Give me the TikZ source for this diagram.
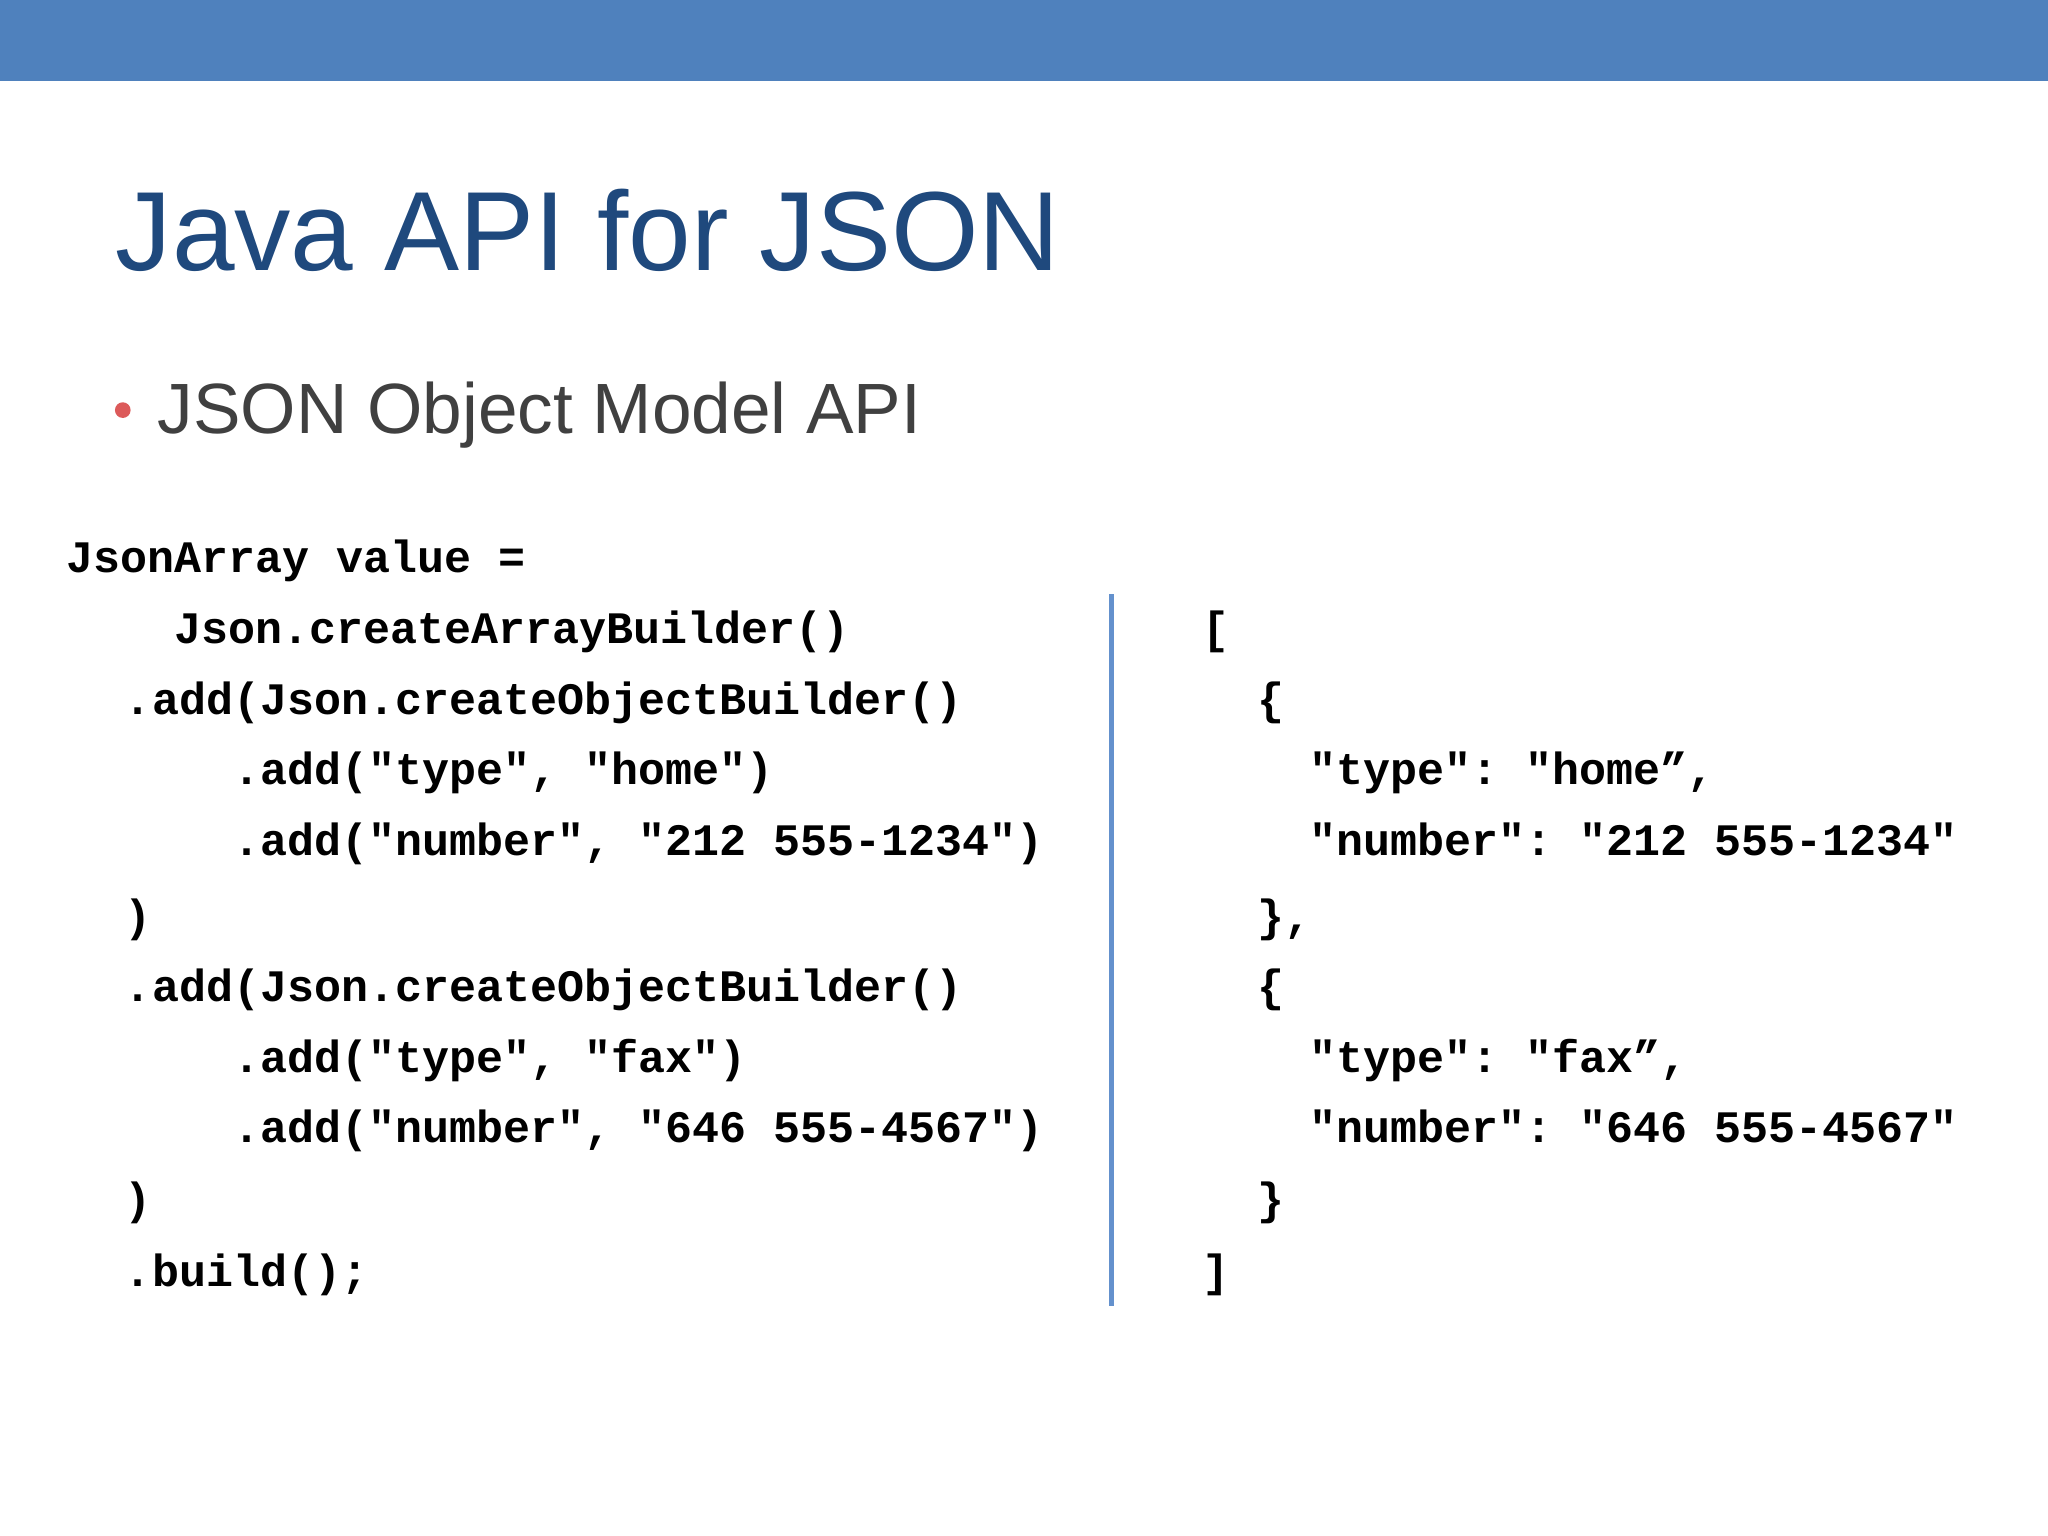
\documentclass[tikz,border=0pt]{standalone}
\usepackage{fontspec}
\setmainfont{Liberation Sans}
\setmonofont{Liberation Mono}
\usepackage{tikz}
\usetikzlibrary{positioning}
\definecolor{barblue}{RGB}{79,129,189}
\definecolor{titleblue}{RGB}{31,73,125}
\definecolor{textgray}{RGB}{64,64,64}
\definecolor{dotred}{RGB}{220,90,90}
\definecolor{lineblue}{RGB}{100,145,205}

\tikzset{
  code/.style={anchor=base west, inner sep=0pt, font=\fontsize{9.8pt}{11pt}\ttfamily\bfseries}
}

\begin{document}
\begin{tikzpicture}[x=0.01cm, y=-0.01cm]
	\useasboundingbox (0,0) rectangle (1568,1176);
	\fill[barblue] (0,0) rectangle (1568,62);
	\node[anchor=base west, inner sep=0pt, text=titleblue, font=\fontsize{24.5pt}{28pt}\selectfont] (title) at (88,207) {Java API for JSON};
	\fill[dotred] (94,314) circle (6);
	\node[anchor=base west, inner sep=0pt, text=textgray, font=\fontsize{15.5pt}{18pt}\selectfont] (bullet) at (120,332) {JSON Object Model API};

	% Java code
	\node[code] (j1) at (50,438) {JsonArray value =};
	\node[code] (j2) at (133,493) {Json.createArrayBuilder()};
	\node[code] (j3) at (95,547) {.add(Json.createObjectBuilder()};
	\node[code] (j4) at (178,601) {.add("type", "home")};
	\node[code] (j5) at (178,655) {.add("number", "212 555-1234")};
	\node[code] (j6) at (95,713) {)};
	\node[code] (j7) at (95,767) {.add(Json.createObjectBuilder()};
	\node[code] (j8) at (178,821) {.add("type", "fax")};
	\node[code] (j9) at (178,875) {.add("number", "646 555-4567")};
	\node[code] (j10) at (95,930) {)};
	\node[code] (j11) at (95,985) {.build();};

	\draw[lineblue, line width=0.04cm] (851,455) -- (851,1000);

	% JSON result
	\node[code] (r1) at (920,493) {[};
	\node[code] (r2) at (962,547) {\{};
	\node[code] (r3) at (1002,601) {"type": "home”,};
	\node[code] (r4) at (1002,655) {"number": "212 555-1234"};
	\node[code] (r5) at (962,713) {\},};
	\node[code] (r6) at (962,767) {\{};
	\node[code] (r7) at (1002,821) {"type": "fax”,};
	\node[code] (r8) at (1002,875) {"number": "646 555-4567"};
	\node[code] (r9) at (962,930) {\}};
	\node[code] (r10) at (920,985) {]};
\end{tikzpicture}
\end{document}
